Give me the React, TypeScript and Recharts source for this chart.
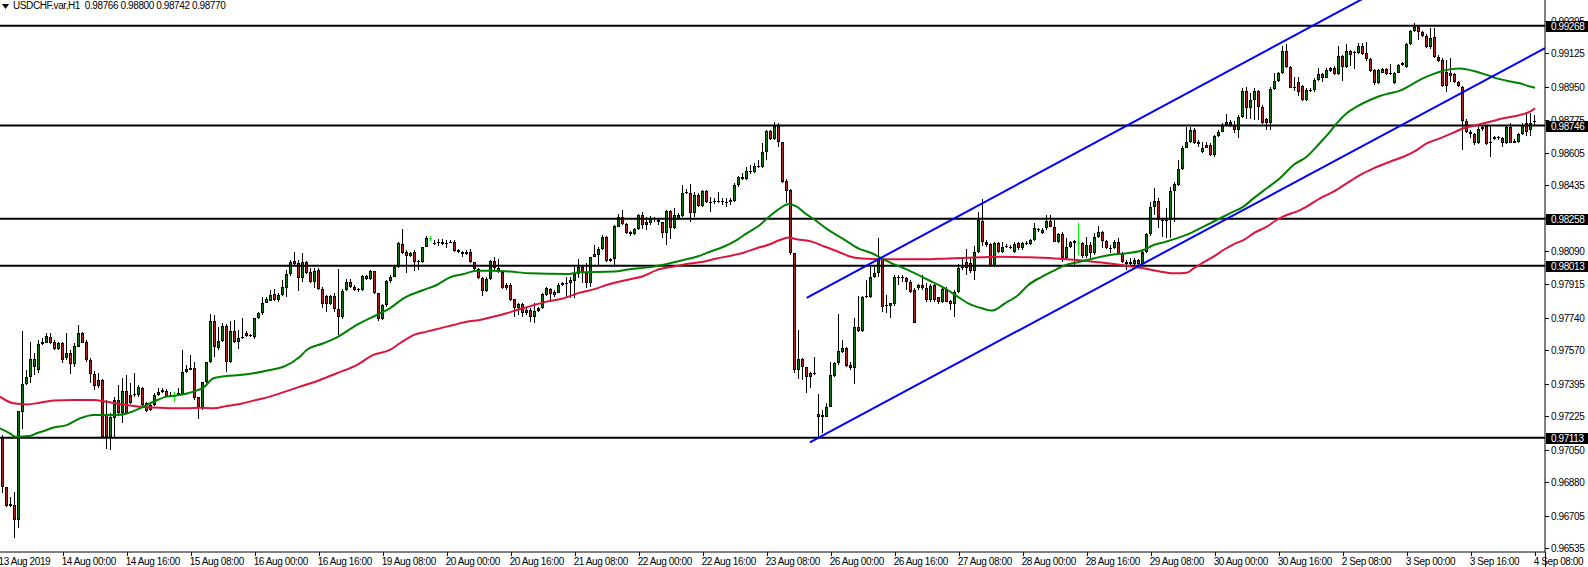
import React from 'react';
import { ComposedChart, XAxis, YAxis, Bar, Line, ReferenceLine } from 'recharts';

// ---------- header ----------
const SYMBOL = 'USDCHF.var,H1';
const LAST_QUOTE = ['0.98766', '0.98800', '0.98742', '0.98770'];

// ---------- H1 candles, [open, high, low, close] in 1/100000 CHF ----------
// first candle = 13 Aug 2019 09:00
const week13Aug: number[][] = [
  [97118,97127,96825,96853],[96853,96857,96752,96757],[96766,96804,96752,96757],[96761,96831,96586,96682],
  [96682,97253,96639,97253],[97249,97673,97157,97392],[97392,97467,97389,97429],[97429,97615,97397,97523],
  [97485,97554,97441,97523],[97467,97624,97453,97603],[97603,97633,97598,97615],[97610,97659,97607,97645],
  [97641,97659,97603,97610],[97615,97624,97572,97575],[97575,97615,97572,97607],[97610,97615,97505,97519],
  [97528,97659,97519,97558],[97558,97572,97446,97497],[97497,97607,97485,97593],[97589,97703,97586,97659],
  [97659,97668,97607,97610],[97615,97624,97511,97519],[97519,97528,97397,97446],[97446,97464,97363,97385],
  [97415,97450,97371,97383],[97415,97418,97110,97118],[97232,97310,97052,97118],[97118,97240,97049,97223],
  [97214,97328,97115,97310],[97310,97389,97232,97244],[97244,97424,97188,97357],[97357,97441,97240,97244],
  [97336,97397,97289,97293],[97336,97450,97328,97340],[97336,97389,97328,97376],[97371,97380,97279,97284],
  [97293,97301,97249,97253],[97284,97293,97253,97258],[97284,97345,97279,97336],[97336,97371,97331,97354],
  [97354,97371,97349,97363],[97359,97366,97324,97328],[97328,97354,97324,97331],[97331,97350,97298,97331],
  [97336,97371,97336,97345],[97342,97572,97336,97458],[97458,97493,97450,97472],[97467,97546,97467,97476],
  [97476,97511,97310,97319],[97324,97328,97209,97267],[97267,97406,97258,97406],[97406,97511,97397,97511],
  [97511,97760,97505,97725],[97725,97755,97537,97589],[97581,97694,97572,97621],[97621,97711,97615,97697],
  [97697,97708,97458,97511],[97511,97725,97505,97673],[97673,97729,97610,97615],[97615,97676,97575,97633],
  [97633,97738,97628,97641],[97659,97673,97641,97647],[97650,97656,97638,97645],[97638,97738,97628,97738],
  [97738,97772,97734,97764],[97764,97851,97755,97819],[97819,97851,97819,97837],[97830,97886,97828,97860],
  [97863,97889,97830,97833],[97833,97872,97825,97860],[97860,97938,97856,97900],[97894,97990,97847,97969],
  [97969,98043,97961,98034],[98037,98083,98017,98022],[98029,98043,97882,97950],[97950,98078,97929,98031],
  [98031,98037,97969,97976],[97982,97999,97924,97929],[97929,97999,97898,97985],[97990,97999,97886,97889],
  [97889,97903,97790,97811],[97854,97860,97772,97811],[97811,97860,97807,97854],[97854,97868,97772,97785],
  [97785,97996,97650,97746],[97746,97889,97732,97880],[97886,97942,97880,97929],
];
const week19Aug: number[][] = [
  [97929,97942,97894,97900],[97900,97912,97880,97886],[97893,97894,97877,97891],[97886,97964,97880,97959],
  [97959,97964,97938,97943],[97943,97990,97938,97985],[97985,97987,97865,97868],[97868,97872,97725,97732],
  [97732,97811,97729,97807],[97807,97938,97799,97933],[97933,97964,97924,97956],[97956,98017,97952,98008],
  [98008,98139,98003,98130],[98126,98205,98074,98081],[98086,98095,97976,98064],[98064,98086,98057,98081],
  [98086,98095,97987,98031],[98034,98043,97990,98039],[98031,98112,98025,98109],[98112,98168,98109,98156],
  [98156,98168,98144,98156],[98133,98147,98123,98126],[98130,98151,98116,98139],[98139,98151,98121,98125],
  [98133,98147,98104,98130],[98133,98147,98130,98139],[98139,98147,98086,98092],[98095,98099,98078,98083],
  [98086,98092,98060,98074],[98074,98095,98069,98086],[98086,98099,98025,98031],[98031,98034,97987,97994],
  [97994,97999,97942,97947],[97947,97952,97854,97882],[97882,97952,97877,97942],[97942,98043,97938,98039],
  [98039,98060,97990,98003],[97999,98046,97973,97982],[97982,97987,97889,97894],[97912,97921,97886,97894],
  [97912,97921,97828,97833],[97837,97840,97743,97790],[97790,97816,97755,97812],[97812,97816,97746,97764],
  [97764,97790,97755,97781],[97781,97790,97720,97746],[97746,97819,97715,97776],[97776,97798,97772,97790],
  [97793,97872,97788,97863],[97860,97903,97854,97894],[97889,97894,97825,97863],[97860,97886,97851,97877],
  [97872,97921,97868,97912],[97912,97929,97907,97924],[97922,97956,97851,97924],[97921,97956,97842,97938],
  [97935,98008,97842,97968],[97968,98046,97947,98008],[98008,98017,97924,97973],[97973,98025,97894,97924],
  [97924,98060,97903,98057],[98057,98121,98057,98074],[98069,98112,98017,98099],[98099,98174,98095,98165],
  [98165,98168,98034,98039],[98046,98051,98034,98039],[98046,98226,98008,98221],[98217,98283,98214,98266],
  [98266,98304,98226,98229],[98229,98235,98179,98186],[98187,98196,98170,98177],[98177,98208,98173,98205],
  [98205,98283,98200,98278],[98278,98296,98203,98226],[98243,98269,98200,98226],[98235,98273,98226,98261],
  [98261,98269,98243,98255],[98252,98255,98226,98243],[98240,98243,98156,98182],[98186,98304,98121,98301],
  [98301,98304,98151,98208],[98208,98313,98203,98278],[98261,98287,98252,98278],[98273,98435,98269,98392],
  [98397,98412,98388,98392],[98395,98440,98243,98290],[98290,98400,98269,98383],[98383,98395,98322,98327],
  [98327,98409,98322,98404],[98404,98409,98339,98348],[98348,98371,98296,98346],[98351,98365,98336,98344],
  [98353,98400,98339,98348],[98351,98365,98331,98344],[98348,98365,98318,98344],[98344,98365,98331,98357],
  [98353,98444,98348,98435],[98435,98482,98423,98475],[98475,98496,98461,98465],[98465,98528,98461,98508],
  [98505,98540,98493,98510],[98505,98549,98496,98535],[98529,98566,98522,98533],[98528,98653,98522,98606],
  [98606,98723,98566,98716],[98716,98723,98671,98674],[98674,98763,98671,98744],[98744,98758,98636,98658],
  [98658,98662,98447,98453],[98458,98465,98339,98406],[98409,98412,98069,98078],[98078,98081,97450,97467],
  [97467,97676,97418,97523],[97523,97528,97415,97485],[97481,97485,97345,97429],[97453,97458,97371,97429],
  [97451,97537,97441,97453],[97235,97342,97118,97223],[97223,97258,97136,97232],[97223,97293,97220,97275],
];
const week26Aug: number[][] = [
  [97275,97511,97272,97441],[97438,97511,97432,97502],[97502,97760,97493,97567],[97563,97624,97554,97581],
  [97581,97589,97485,97490],[97493,97511,97467,97476],[97476,97737,97394,97690],[97690,97854,97668,97673],
  [97673,97854,97668,97847],[97847,97938,97842,97854],[97847,98008,97842,97952],[97952,98004,97947,97973],
  [97973,98156,97955,98043],[98046,98051,97772,97799],[97807,97860,97764,97802],[97802,97816,97737,97816],
  [97812,97964,97802,97952],[97952,97964,97912,97950],[97952,97964,97929,97947],[97950,97955,97886,97926],
  [97929,97938,97872,97877],[97886,97894,97715,97715],[97894,97917,97886,97912],[97912,97964,97886,97894],
  [97898,97921,97825,97833],[97833,97917,97825,97907],[97912,97921,97825,97833],[97847,97851,97812,97825],
  [97825,97894,97819,97889],[97889,97903,97821,97825],[97828,97833,97781,97812],[97812,97886,97746,97877],
  [97877,98022,97872,97999],[98004,98057,97990,98002],[98034,98098,97964,97999],[98029,98060,97976,97987],
  [97987,98116,97938,98086],[98086,98292,98081,98252],[98248,98360,98116,98139],[98139,98147,98112,98121],
  [98125,98130,98004,98011],[98011,98139,98004,98133],[98133,98139,98081,98086],[98086,98139,98081,98112],
  [98118,98125,98104,98109],[98112,98121,98098,98104],[98086,98139,98081,98126],[98130,98139,98095,98104],
  [98104,98139,98095,98133],[98130,98144,98121,98133],[98126,98151,98121,98147],[98147,98235,98142,98208],
  [98200,98208,98191,98203],[98200,98208,98179,98186],[98208,98278,98200,98248],[98248,98278,98214,98217],
  [98217,98252,98135,98139],[98139,98186,98133,98179],[98177,98187,98034,98051],[98051,98156,98043,98112],
  [98112,98142,98107,98135],[98142,98147,98008,98130],[98130,98235,98069,98130],[98130,98139,98051,98065],
  [98065,98165,98055,98121],[98121,98139,98051,98081],[98081,98182,98069,98161],[98161,98221,98156,98187],
  [98187,98194,98107,98142],[98142,98147,98100,98107],[98107,98121,98078,98105],[98107,98147,98100,98139],
  [98135,98156,98069,98072],[98072,98083,98025,98031],[98034,98043,97990,98020],[98031,98051,98013,98020],
  [98020,98051,98013,98043],[98043,98048,98017,98020],[98020,98095,98013,98086],[98086,98182,98078,98177],
  [98177,98348,98170,98322],[98322,98418,98278,98351],[98351,98365,98208,98252],[98252,98264,98165,98247],
  [98250,98313,98160,98247],[98252,98426,98160,98404],[98404,98453,98243,98439],[98435,98566,98432,98519],
  [98519,98641,98514,98630],[98630,98740,98627,98658],[98658,98740,98653,98723],[98723,98732,98648,98653],
  [98662,98671,98636,98648],[98610,98662,98604,98627],[98644,98662,98627,98630],[98644,98653,98587,98592],
  [98592,98697,98583,98691],[98691,98723,98688,98714],[98714,98758,98711,98746],[98749,98805,98746,98766],
  [98766,98775,98740,98749],[98749,98770,98705,98723],[98723,98801,98679,98793],[98793,98944,98787,98927],
  [98927,98950,98780,98840],[98836,98915,98780,98880],[98880,98941,98775,98927],[98927,98932,98775,98845],
  [98845,98854,98752,98758],[98779,98784,98723,98758],[98758,98950,98723,98937],[98937,99019,98932,98979],
  [98979,99028,98976,99019],[99019,99164,99014,99136],[99136,99171,99049,99054],[99054,99059,98941,98944],
  [98949,99002,98927,98947],[98976,99002,98903,98923],[98953,98958,98875,98880],[98880,98941,98875,98932],
];
const week2Sep: number[][] = [
  [98930,98941,98923,98932],[98932,98993,98923,98984],[98984,99046,98979,99014],[99014,99019,98976,98997],
  [98997,99049,98993,99037],[99046,99054,99028,99033],[99046,99058,99011,99016],[99016,99162,99011,99110],
  [99110,99115,98981,99051],[99051,99173,99046,99138],[99138,99141,99058,99115],[99124,99138,99040,99133],
  [99128,99180,99121,99162],[99162,99180,99115,99119],[99124,99185,99086,99093],[99093,99098,99028,99033],
  [99037,99040,98958,98967],[98967,99040,98964,99037],[99023,99046,99019,99040],[99040,99046,99011,99016],
  [99023,99068,99011,99016],[98967,99028,98964,99023],[99023,99068,99019,99063],[99063,99080,99058,99075],
  [99051,99176,99046,99173],[99173,99246,99168,99241],[99241,99281,99237,99264],[99264,99272,99194,99234],
  [99234,99243,99211,99216],[99216,99225,99150,99155],[99155,99255,99145,99202],[99208,99255,99098,99103],
  [99103,99115,99080,99086],[99089,99098,98950,98955],[99028,99089,98923,98955],[99019,99098,98976,99005],
  [99014,99019,98967,98972],[98972,98981,98946,98955],[98950,98953,98618,98772],[98772,98779,98705,98711],
  [98714,98723,98679,98700],[98700,98705,98644,98653],[98653,98740,98650,98726],[98726,98749,98719,98740],
  [98744,98749,98644,98648],[98658,98749,98583,98653],[98674,98692,98671,98685],[98679,98692,98671,98688],
  [98683,98688,98632,98653],[98653,98749,98650,98740],[98740,98758,98653,98657],[98667,98674,98653,98657],
  [98659,98705,98653,98700],[98700,98758,98695,98749],[98758,98814,98692,98714],[98723,98814,98692,98761],
  [98766,98800,98742,98770],
];

// ---------- moving averages, [bar index, price] ----------
const maFast: number[][] = [
  [-0.7,0.97162],[1.8,0.97136],[3.1,0.97118],[6.8,0.97122],[8.5,0.97136],[11,0.97153],[12.7,0.97166],[16,0.97179],
  [19.3,0.97214],[22.7,0.97232],[26,0.97232],[28.5,0.97232],[31,0.9724],[34.3,0.97267],[37.7,0.97301],[41,0.97328],
  [44.3,0.97336],[47.7,0.97354],[50.2,0.97375],[52.7,0.97424],[56,0.97436],[59.3,0.97441],[62.7,0.9745],[66.8,0.97467],
  [70.2,0.97484],[74.3,0.97537],[76,0.97572],[80.2,0.97607],[83.9,0.97642],[88.5,0.97703],[93.5,0.97755],[96.8,0.9779],
  [100.2,0.97842],[105.2,0.97886],[108.5,0.97912],[111.8,0.97952],[115.2,0.97969],[118.5,0.97987],[122.7,0.97987],
  [126.8,0.97982],[131.8,0.97973],[141,0.97969],[144.3,0.97978],[152.7,0.97982],[156.8,0.97994],[162.7,0.98008],
  [166,0.98022],[170.2,0.98043],[173.5,0.9806],[176.8,0.98086],[180.2,0.98112],[183.5,0.98147],[186,0.98182],
  [189.3,0.98226],[191.8,0.98273],[194.3,0.98313],[196.4,0.98334],[198.5,0.98322],[200.6,0.98287],[203.1,0.98252],
  [206.4,0.982],[210.6,0.98147],[213.9,0.98104],[217.3,0.98078],[219.8,0.98051],[222.3,0.98025],[224.8,0.98004],
  [228.1,0.97973],[231.4,0.97938],[234.8,0.97903],[238.1,0.9786],[241.4,0.97816],[244.8,0.9779],[247.3,0.97778],
  [250.6,0.97816],[253.9,0.9786],[256.4,0.97912],[259.8,0.97955],[263.1,0.9799],[265.6,0.98016],[268.5,0.9803],
  [272.7,0.98051],[276.8,0.98069],[281,0.98078],[285.2,0.98095],[287.7,0.98121],[290.2,0.98135],[293.5,0.98156],
  [296.8,0.98182],[300.2,0.98217],[303.5,0.98252],[306.8,0.98287],[310.2,0.98322],[312.7,0.98365],[316,0.98418],
  [319.3,0.9847],[322.7,0.9854],[326,0.98583],[329.3,0.98655],[331.5,0.98705],[333.5,0.98758],[336,0.9881],
  [338.5,0.98845],[341.8,0.9888],[344.3,0.98901],[346.8,0.98915],[349.3,0.98929],[351,0.98946],[353.5,0.98976],
  [356,0.99002],[357.7,0.99016],[359.3,0.99028],[361.8,0.9904],[364.3,0.99044],[366,0.9904],[368.5,0.99028],
  [371,0.99011],[373.5,0.98993],[376,0.98981],[379.3,0.98967],[381.8,0.9895],[383.1,0.98944],
];
const maSlow: number[][] = [
  [-0.7,0.97328],[2.7,0.97293],[6,0.97287],[9.3,0.97296],[12.7,0.97307],[17.7,0.9731],[22.7,0.9731],[26,0.97301],
  [29.3,0.97289],[32.7,0.97279],[36,0.97272],[39.3,0.9727],[42.7,0.97267],[46,0.97267],[49.3,0.9727],[52.7,0.97267],
  [56,0.97279],[59.3,0.97289],[62.7,0.97307],[66.8,0.97328],[69.3,0.97345],[74.3,0.9738],[79.3,0.97415],[83.5,0.9745],
  [88.5,0.97493],[92.7,0.97546],[96.8,0.97572],[99.3,0.97607],[102.7,0.9765],[106,0.97668],[109.3,0.97685],
  [112.7,0.97703],[116,0.9772],[119.3,0.97729],[122.7,0.97746],[126,0.97764],[128.5,0.97781],[131.8,0.978],
  [136,0.97825],[140.2,0.97842],[144.3,0.97872],[147.7,0.97889],[151.8,0.97917],[156,0.97938],[160.2,0.97959],
  [163.5,0.9799],[167.7,0.98008],[171,0.98022],[175.2,0.98034],[178.5,0.98051],[181.8,0.98064],[185.2,0.98081],
  [188.5,0.98104],[191.8,0.98125],[194.3,0.98147],[196.4,0.9816],[198.5,0.98151],[202.3,0.98139],[205.6,0.98112],
  [208.9,0.98086],[211.4,0.98064],[214.8,0.98051],[223.1,0.98046],[229.8,0.98046],[236.4,0.98051],[244.8,0.98057],
  [249.8,0.9806],[256.4,0.98057],[263.1,0.98051],[268.5,0.98043],[272.7,0.98034],[276.8,0.98025],[281,0.98013],
  [285.2,0.97999],[289.3,0.97982],[292.7,0.97973],[296,0.97976],[297.7,0.97999],[300.2,0.9803],[302.7,0.9806],
  [305.2,0.98095],[307.7,0.98125],[310.2,0.98147],[312.7,0.98182],[316,0.98217],[318.5,0.98252],[321,0.98278],
  [323.5,0.98296],[326,0.98322],[329.3,0.98365],[332.7,0.984],[336,0.98444],[339.3,0.98487],[342.7,0.98522],
  [346.8,0.98557],[350.2,0.98583],[353.5,0.98618],[356,0.98653],[359.3,0.98679],[362.7,0.98709],[365.2,0.98732],
  [368.5,0.98749],[371.8,0.98766],[375.2,0.98784],[379.3,0.98801],[381.8,0.98819],[383.1,0.98836],
];

// ---------- trend channel (bar index, price) ----------
const channelUpper: number[][] = [[201, 0.97845], [385.58, 0.99922]];
const channelLower: number[][] = [[201.8, 0.97089], [385.58, 0.99151]];

// ---------- horizontal levels ----------
const levels = [0.99268, 0.98746, 0.98258, 0.98013, 0.97113];

// ---------- axes ----------
const priceTicks = [0.96535, 0.96705, 0.9688, 0.9705, 0.97225, 0.97395, 0.9757, 0.9774, 0.97915,
  0.9809, 0.9826, 0.98435, 0.98605, 0.98775, 0.9895, 0.99125, 0.99295];
const timeTickIndex = [0, 15, 31, 47, 63, 79, 95, 111, 127, 143, 159, 175, 191, 207, 223, 239, 255, 271,
  287, 303, 319, 335, 351, 367, 383];
const timeTickLabels = ['13 Aug 2019', '14 Aug 00:00', '14 Aug 16:00', '15 Aug 08:00', '16 Aug 00:00',
  '16 Aug 16:00', '19 Aug 08:00', '20 Aug 00:00', '20 Aug 16:00', '21 Aug 08:00', '22 Aug 00:00',
  '22 Aug 16:00', '23 Aug 08:00', '26 Aug 00:00', '26 Aug 16:00', '27 Aug 08:00', '28 Aug 00:00',
  '28 Aug 16:00', '29 Aug 08:00', '30 Aug 00:00', '30 Aug 16:00', '2 Sep 08:00', '3 Sep 00:00',
  '3 Sep 16:00', '4 Sep 08:00'];

const X_DOMAIN: [number, number] = [-0.6675, 385.5825];
const Y_DOMAIN: [number, number] = [0.96515, 0.99403];

// ---------- layout / style ----------
const W = 1588;
const H = 567;
const AXIS_W = 43;
const AXIS_H = 15;
const PLOT_R = W - AXIS_W;
const PLOT_B = H - AXIS_H;
const FONT = '"Liberation Sans", Arial, sans-serif';
const BULL = '#008000';
const BEAR = '#b22222';
const DOJI = '#00ff00';
const INK = '#000000';

const candles = [...week13Aug, ...week19Aug, ...week26Aug, ...week2Sep].map((q, i) => {
  const [o, h, l, c] = q.map((v) => v / 100000);
  return { i, o, h, l, c, range: [l, h] };
});
const toSeries = (pts: number[][]) => pts.map(([i, v]) => ({ i, v }));
const fastData = toSeries(maFast);
const slowData = toSeries(maSlow);
const upperData = toSeries(channelUpper);
const lowerData = toSeries(channelLower);
const yTicks = [...priceTicks, ...levels].sort((a, b) => b - a);

function Candle(props: any) {
  const { x, y, width, height, payload } = props;
  if (!payload || !Number.isFinite(x) || !Number.isFinite(y) || !Number.isFinite(height)) return null;
  const top = Math.min(y, y + height);
  const span = Math.abs(height);
  const { o, h, l, c } = payload;
  const py = (p: number) => (h > l ? top + ((h - p) / (h - l)) * span : top);
  const left = Math.round(x + width / 2 - 1.5);
  const mid = left + 1.5;
  const yH = Math.round(py(h));
  const yL = Math.round(py(l));
  if (o === c) {
    const yy = Math.round(py(o)) + 0.5;
    return (
      <g>
        <line x1={mid} x2={mid} y1={yH} y2={Math.max(yL, yH + 1)} stroke={DOJI} strokeWidth={1} />
        <line x1={left} x2={left + 3} y1={yy} y2={yy} stroke={DOJI} strokeWidth={1} />
      </g>
    );
  }
  const yO = py(o);
  const yC = py(c);
  const bTop = Math.round(Math.min(yO, yC));
  const bBot = Math.round(Math.max(yO, yC));
  const fill = c > o ? BULL : BEAR;
  return (
    <g>
      <line x1={mid} x2={mid} y1={yH} y2={Math.max(yL, yH + 1)} stroke={INK} strokeWidth={1} />
      {bBot - bTop >= 3 ? (
        <rect x={left + 0.5} y={bTop + 0.5} width={2} height={bBot - bTop - 1} fill={fill} stroke={INK} strokeWidth={1} />
      ) : (
        <rect x={left} y={bTop} width={3} height={Math.max(1, bBot - bTop)} fill={INK} />
      )}
    </g>
  );
}

function TimeTick(props: any) {
  const { x, payload } = props;
  const k = timeTickIndex.indexOf(payload.value);
  if (k < 0) return null;
  const label = timeTickLabels[k];
  if (k === 0) {
    return (
      <text x={-1.5} y={PLOT_B + 13} fontSize={10} fontFamily={FONT} letterSpacing={-0.4} fill={INK}>
        {label}
      </text>
    );
  }
  const tx = Math.round(x) + 0.5;
  return (
    <g>
      <line x1={tx} x2={tx} y1={PLOT_B} y2={PLOT_B + 4} stroke={INK} strokeWidth={1} />
      <text x={x - 1} y={PLOT_B + 13} fontSize={10} fontFamily={FONT} letterSpacing={-0.4} fill={INK}>
        {label}
      </text>
    </g>
  );
}

function PriceTick(props: any) {
  const { y, payload } = props;
  const v = payload.value as number;
  const yy = Math.round(y);
  if (levels.includes(v)) {
    return (
      <g>
        <rect x={PLOT_R + 1} y={yy - 5} width={W - PLOT_R - 1} height={11} fill={INK} />
        <text x={PLOT_R + 6} y={yy + 4} fontSize={10} fontFamily={FONT} letterSpacing={-0.4} fill="#ffffff">
          {v.toFixed(5)}
        </text>
      </g>
    );
  }
  return (
    <g>
      <line x1={PLOT_R} x2={PLOT_R + 4} y1={yy + 0.5} y2={yy + 0.5} stroke={INK} strokeWidth={1} />
      <text x={PLOT_R + 6} y={yy + 4} fontSize={10} fontFamily={FONT} letterSpacing={-0.4} fill={INK}>
        {v.toFixed(5)}
      </text>
    </g>
  );
}

export default function App() {
  return (
    <div style={{ position: 'absolute', left: 0, top: 0, width: W, height: H, background: '#ffffff', overflow: 'hidden' }}>
      <ComposedChart width={W} height={H} data={candles} margin={{ top: 0, right: 0, bottom: 0, left: 0 }}>
        <XAxis
          dataKey="i"
          type="number"
          domain={X_DOMAIN}
          allowDataOverflow
          ticks={timeTickIndex}
          interval={0}
          tick={<TimeTick />}
          tickLine={false}
          axisLine={{ stroke: INK, strokeWidth: 1 }}
          height={AXIS_H}
        />
        <YAxis
          orientation="right"
          type="number"
          domain={Y_DOMAIN}
          allowDataOverflow
          ticks={yTicks}
          interval={0}
          tick={<PriceTick />}
          tickLine={false}
          axisLine={{ stroke: INK, strokeWidth: 1 }}
          width={AXIS_W}
        />
        <Bar dataKey="range" barSize={3} shape={(p: any) => <Candle {...p} />} isAnimationActive={false} />
        {levels.map((lv) => (
          <ReferenceLine key={lv} y={lv} stroke={INK} strokeWidth={2} />
        ))}
        <Line data={slowData} dataKey="v" type="monotone" stroke="#dc143c" strokeWidth={2} dot={false} activeDot={false} isAnimationActive={false} />
        <Line data={fastData} dataKey="v" type="monotone" stroke="#008000" strokeWidth={2} dot={false} activeDot={false} isAnimationActive={false} />
        <Line data={upperData} dataKey="v" type="linear" stroke="#0000ff" strokeWidth={2} dot={false} activeDot={false} isAnimationActive={false} />
        <Line data={lowerData} dataKey="v" type="linear" stroke="#0000ff" strokeWidth={2} dot={false} activeDot={false} isAnimationActive={false} />
      </ComposedChart>
      <div style={{ position: 'absolute', left: 2, top: 0, height: 12, display: 'flex', alignItems: 'center', fontFamily: FONT, fontSize: 10, letterSpacing: -0.4, color: INK, whiteSpace: 'pre', lineHeight: '12px' }}>
        <svg width={7} height={5} style={{ marginRight: 4 }}>
          <polygon points="0,0 7,0 3.5,5" fill={INK} />
        </svg>
        {`${SYMBOL}  ${LAST_QUOTE.join(' ')}`}
      </div>
      <div style={{ position: 'absolute', left: PLOT_R, top: PLOT_B, width: 1, height: H - PLOT_B, background: INK }} />
    </div>
  );
}
